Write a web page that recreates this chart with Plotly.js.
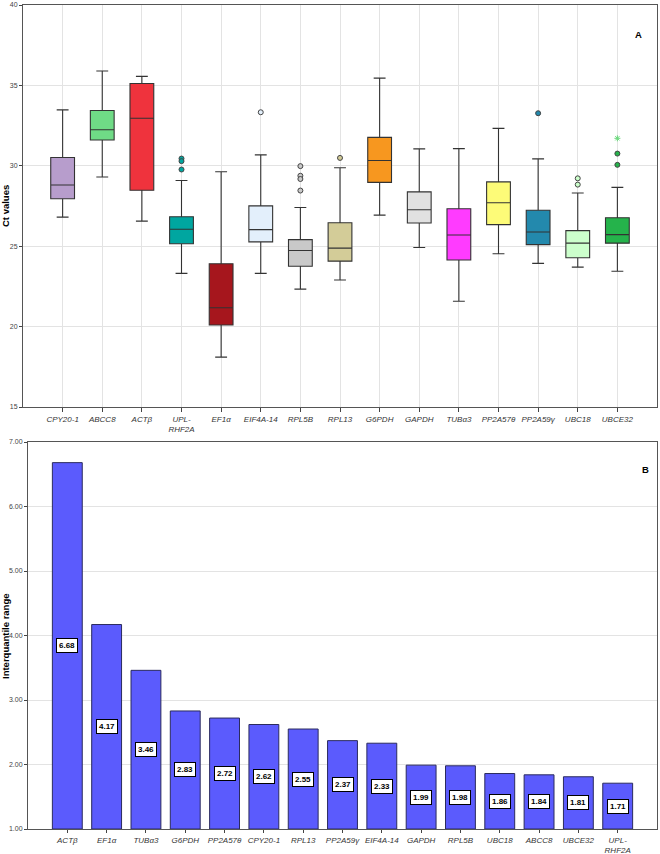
<!DOCTYPE html>
<html>
<head>
<meta charset="utf-8">
<script src="https://cdn.plot.ly/plotly-3.0.1.min.js"></script>
<style>html,body{margin:0;padding:0;background:#fff;}#chart{width:660px;height:854px;}</style>
</head>
<body>
<div id="chart"></div>
<script>
// ---- Panel A: Ct value box plots ----
var genes = ['CPY20-1','ABCC8','ACTβ','UPL-RHF2A','EF1α','EIF4A-14','RPL5B','RPL13','G6PDH','GAPDH','TUBα3','PP2A57θ','PP2A59γ','UBC18','UBCE32'];
var geneTickText = ['CPY20-1','ABCC8','ACTβ','UPL-<br>RHF2A','EF1α','EIF4A-14','RPL5B','RPL13','G6PDH','GAPDH','TUBα3','PP2A57θ','PP2A59γ','UBC18','UBCE32'];
var lowerWhisker = [26.81,29.30,26.56,23.31,18.10,23.31,22.33,22.90,26.93,24.92,21.58,24.53,23.93,23.70,23.44];
var q1Values     = [27.95,31.60,28.48,25.15,20.10,25.27,23.75,24.07,28.97,26.44,24.14,26.34,25.10,24.28,25.19];
var medianValues = [28.81,32.24,32.96,26.05,21.17,26.03,24.73,24.88,30.33,27.27,25.70,27.70,25.88,25.19,25.72];
var q3Values     = [30.52,33.44,35.12,26.83,23.91,27.51,25.41,26.46,31.77,28.38,27.33,29.00,27.24,25.97,26.77];
var upperWhisker = [33.48,35.90,35.56,29.09,29.63,30.68,27.41,29.88,35.45,31.05,31.07,32.33,30.43,28.31,28.66];
var outlierGenes  = ['UPL-RHF2A','UPL-RHF2A','UPL-RHF2A','EIF4A-14','RPL5B','RPL5B','RPL5B','RPL5B','RPL13','PP2A59γ','UBC18','UBC18','UBCE32','UBCE32'];
var outlierValues = [30.45,30.29,29.77,33.33,29.98,29.38,29.18,28.46,30.49,33.27,29.22,28.83,30.76,30.06];
var extremeGenes  = ['UBCE32'];
var extremeValues = [31.71];

// ---- Panel B: interquartile range bars ----
var iqrGenes = ['ACTβ','EF1α','TUBα3','G6PDH','PP2A57θ','CPY20-1','RPL13','PP2A59γ','EIF4A-14','GAPDH','RPL5B','UBC18','ABCC8','UBCE32','UPL-RHF2A'];
var iqrTickText = ['ACTβ','EF1α','TUBα3','G6PDH','PP2A57θ','CPY20-1','RPL13','PP2A59γ','EIF4A-14','GAPDH','RPL5B','UBC18','ABCC8','UBCE32','UPL-<br>RHF2A'];
var iqrValues = [6.68,4.17,3.46,2.83,2.72,2.62,2.55,2.37,2.33,1.99,1.98,1.86,1.84,1.81,1.71];
var iqrBase = 1;

// ---- styles ----
var boxColors = ['#b79dcc','#6fdb86','#ef333d','#00a6a0','#a6161d','#e3effb','#c9c9c9','#d3cc98','#f7971f','#e1e1e1','#ff3bff','#fdfb78','#2389ad','#ccffcc','#25b34b'];
var FONT = 'Liberation Sans, Arial, sans-serif';

var traces = [];
genes.forEach(function(g, i){
  traces.push({
    type:'box', x:[g], q1:[q1Values[i]], median:[medianValues[i]], q3:[q3Values[i]],
    lowerfence:[lowerWhisker[i]], upperfence:[upperWhisker[i]],
    fillcolor: boxColors[i], line:{color:'#333', width:1.1},
    width:0.6, whiskerwidth:0.5, boxpoints:false, showlegend:false,
    hoverinfo:'skip', xaxis:'x', yaxis:'y'
  });
});
var outColors = outlierGenes.map(function(g){ return boxColors[genes.indexOf(g)]; });
traces.push({
  type:'scatter', mode:'markers', x:outlierGenes, y:outlierValues,
  marker:{size:5, color:outColors, line:{color:'#444', width:1}},
  showlegend:false, hoverinfo:'skip', xaxis:'x', yaxis:'y'
});
traces.push({
  type:'scatter', mode:'markers', x:extremeGenes, y:extremeValues,
  marker:{size:5, symbol:'asterisk-open', color:'#6ad87c', line:{color:'#6ad87c', width:1}},
  showlegend:false, hoverinfo:'skip', xaxis:'x', yaxis:'y'
});
traces.push({
  type:'bar', x:iqrGenes, y:iqrValues.map(function(v){ return v - iqrBase; }), base:iqrBase,
  marker:{color:'#5b5bfd', line:{color:'#2b2b5e', width:1}},
  width:0.76, showlegend:false, hoverinfo:'skip', xaxis:'x2', yaxis:'y2'
});

var annotations = iqrGenes.map(function(g, i){
  return {
    xref:'x2', yref:'y2', x:g, y:(iqrValues[i] + iqrBase) / 2,
    text:'<b>' + iqrValues[i].toFixed(2) + '</b>', showarrow:false,
    font:{family:FONT, size:8, color:'#000'},
    bgcolor:'#ffffff', bordercolor:'#000', borderwidth:1, borderpad:2
  };
});
annotations.push({xref:'paper', yref:'paper', x:638/660, y:1-34/854, xanchor:'center', yanchor:'middle', text:'<b>A</b>', showarrow:false, font:{family:FONT, size:9.5, color:'#000'}});
annotations.push({xref:'paper', yref:'paper', x:645/660, y:1-470/854, xanchor:'center', yanchor:'middle', text:'<b>B</b>', showarrow:false, font:{family:FONT, size:9.5, color:'#000'}});
annotations.push({xref:'paper', yref:'paper', x:5/660, y:1-206/854, xanchor:'center', yanchor:'middle', text:'<b>Ct values</b>', textangle:-90, showarrow:false, font:{family:FONT, size:9.5, color:'#000'}});
annotations.push({xref:'paper', yref:'paper', x:5/660, y:1-636/854, xanchor:'center', yanchor:'middle', text:'<b>Interquantile range</b>', textangle:-90, showarrow:false, font:{family:FONT, size:9.5, color:'#000'}});

var layout = {
  width:660, height:854, margin:{l:0, r:0, t:0, b:0},
  paper_bgcolor:'#fff', plot_bgcolor:'#fff', showlegend:false,
  boxmode:'overlay',
  xaxis:{domain:[23/660, 657/660], anchor:'y', type:'category', range:[-1, 15],
    tickvals:genes, ticktext:geneTickText, tickfont:{family:FONT, size:8, color:'#333', style:'italic'},
    showgrid:true, gridcolor:'#e3e3e3', gridwidth:1,
    ticks:'outside', ticklen:4, tickcolor:'#444',
    showline:true, mirror:true, linecolor:'#555', linewidth:1, zeroline:false},
  yaxis:{domain:[1-407/854, 1-5/854], anchor:'x', range:[15, 40], dtick:5,
    tickfont:{family:FONT, size:7, color:'#444'}, showgrid:true, gridcolor:'#e3e3e3',
    ticks:'outside', ticklen:3, tickcolor:'#444', ticklabeloverflow:'allow',
    showline:true, mirror:true, linecolor:'#555', linewidth:1, zeroline:false},
  xaxis2:{domain:[28/660, 657/660], anchor:'y2', type:'category', range:[-1, 15],
    tickvals:iqrGenes, ticktext:iqrTickText, tickfont:{family:FONT, size:8, color:'#333', style:'italic'},
    showgrid:false, ticks:'outside', ticklen:3, tickcolor:'#444',
    showline:true, mirror:true, linecolor:'#555', linewidth:1, zeroline:false},
  yaxis2:{domain:[1-829/854, 1-442/854], anchor:'x2', range:[1, 7], dtick:1, tickformat:'.2f',
    tickfont:{family:FONT, size:7, color:'#444'}, showgrid:true, gridcolor:'#e3e3e3',
    ticks:'outside', ticklen:3, tickcolor:'#444',
    showline:true, mirror:true, linecolor:'#555', linewidth:1, zeroline:false},
  annotations:annotations
};
Plotly.newPlot('chart', traces, layout, {displayModeBar:false, staticPlot:true});
</script>
</body>
</html>
